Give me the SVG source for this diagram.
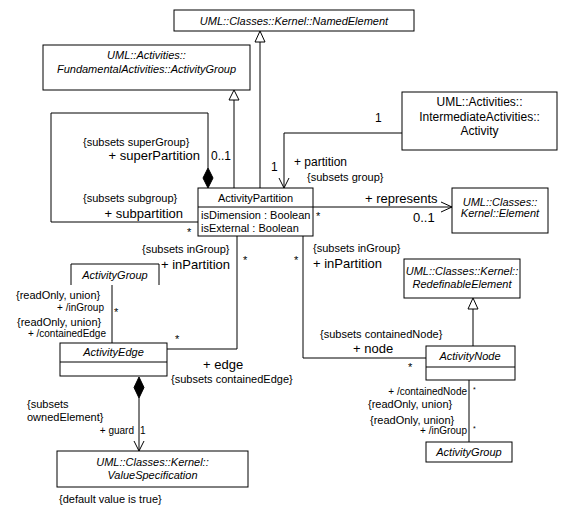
<svg xmlns="http://www.w3.org/2000/svg" width="568" height="518" viewBox="0 0 568 518">
<style>
text{font-family:"Liberation Sans",Arial,sans-serif;font-size:11px;fill:#000}
.i{font-style:italic}
.c{text-anchor:middle}
.e{text-anchor:end}
.l{font-size:13px}
.m{font-size:12px}
.s{font-size:10px}
.t{font-size:7px}
.box{fill:#fff;stroke:#000;stroke-width:1}
.ln{fill:none;stroke:#000;stroke-width:1}
.tri{fill:#fff;stroke:#000;stroke-width:1}
.dia{fill:#000;stroke:#000}
</style>
<rect width="568" height="518" fill="#fff"/>
<g id="connectors">
  <!-- generalizations -->
  <path class="ln" d="M234,188 V100"/>
  <path class="tri" d="M234,90 L239,100 L229,100 Z"/>
  <path class="ln" d="M260,188 V42"/>
  <path class="tri" d="M260,31 L265,42 L255,42 Z"/>
  <path class="ln" d="M473,346 V309"/>
  <path class="tri" d="M473,298 L478,309 L468,309 Z"/>
  <!-- self loop -->
  <path class="ln" d="M208,168 V113 H51 V222 H198"/>
  <path class="dia" d="M208,168 L213,178 L208,188 L203,178 Z"/>
  <!-- activity to partition -->
  <path class="ln" d="M402,133 H284 V188"/>
  <path class="ln" d="M279,178 L284,188 L289,178"/>
  <!-- represents -->
  <path class="ln" d="M313,207 H452"/>
  <path class="ln" d="M441,202 L452,207 L441,212"/>
  <!-- partition to node -->
  <path class="ln" d="M303,236 V358 H426"/>
  <!-- partition to edge -->
  <path class="ln" d="M237,236 V349 H167"/>
  <!-- group to edge -->
  <path class="ln" d="M112,285 V343"/>
  <!-- edge guard -->
  <path class="dia" d="M139,377 L144,387.5 L139,398 L134,387.5 Z"/>
  <path class="ln" d="M139,398 V451"/>
  <path class="ln" d="M134,441 L139,451 L144,441"/>
  <!-- node to group -->
  <path class="ln" d="M469,380 V442"/>
</g>
<g id="labels">
  <text x="83" y="146">{subsets superGroup}</text>
  <text class="l e" x="200" y="159.5">+ superPartition</text>
  <text class="m" x="211" y="159.5">0..1</text>
  <text x="83" y="202">{subsets subgroup}</text>
  <text class="l e" x="183" y="217.5">+ subpartition</text>
  <text x="187" y="236">*</text>
  <text class="m" x="375" y="122">1</text>
  <text class="m" x="271" y="171">1</text>
  <text class="m" x="294" y="166">+ partition</text>
  <text x="307" y="181">{subsets group}</text>
  <text class="l" x="365" y="202.5">+ represents</text>
  <text class="l" x="413" y="221.5">0..1</text>
  <text x="316" y="220">*</text>
  <text x="294" y="264">*</text>
  <text x="313" y="252">{subsets inGroup}</text>
  <text class="l" x="313" y="267.5">+ inPartition</text>
  <text x="243" y="264">*</text>
  <text x="142" y="253">{subsets inGroup}</text>
  <text class="l e" x="230" y="268.5">+ inPartition</text>
  <text x="175" y="343">*</text>
  <text class="l" x="203" y="368.5">+ edge</text>
  <text x="171" y="383">{subsets containedEdge}</text>
  <text x="16" y="299">{readOnly, union}</text>
  <text class="s e" x="104" y="311">+ /inGroup</text>
  <text x="114" y="316">*</text>
  <text x="17" y="326">{readOnly, union}</text>
  <text class="s e" x="106" y="337">+ /containedEdge</text>
  <text x="27" y="408">{subsets</text>
  <text x="27" y="421">ownedElement}</text>
  <text class="s e" x="134" y="434">+ guard</text>
  <text class="s" x="140" y="434">1</text>
  <text x="59" y="503">{default value is true}</text>
  <text x="320" y="338">{subsets containedNode}</text>
  <text class="l" x="353" y="352.5">+ node</text>
  <text x="408" y="371">*</text>
  <text class="s e" x="467" y="394.5">+ /containedNode</text>
  <text class="t" x="473" y="392">*</text>
  <text x="368" y="407.5">{readOnly, union}</text>
  <text x="370" y="424">{readOnly, union}</text>
  <text class="s e" x="467" y="434">+ /inGroup</text>
  <text class="t" x="473" y="431">*</text>
</g>
<g id="NamedElement">
  <rect class="box" x="174" y="10" width="240" height="21"/>
  <text class="i c" x="294" y="24.5">UML::Classes::Kernel::NamedElement</text>
</g>
<g id="FundamentalActivityGroup">
  <rect class="box" x="43" y="45" width="207" height="45"/>
  <text class="i c" x="146.5" y="59">UML::Activities::</text>
  <text class="i c" x="146.5" y="73">FundamentalActivities::ActivityGroup</text>
</g>
<g id="Activity">
  <rect class="box" x="402" y="92" width="155" height="58"/>
  <text class="c m" x="479.5" y="106">UML::Activities::</text>
  <text class="c m" x="479.5" y="121">IntermediateActivities::</text>
  <text class="c m" x="479.5" y="135">Activity</text>
</g>
<g id="ActivityPartition">
  <rect class="box" x="198" y="188" width="115" height="48"/>
  <path class="ln" d="M198,207 H313"/>
  <text class="c" x="255.5" y="202">ActivityPartition</text>
  <text x="201" y="219">isDimension : Boolean</text>
  <text x="201" y="232">isExternal : Boolean</text>
</g>
<g id="Element">
  <rect class="box" x="452" y="188" width="96" height="45"/>
  <text class="i c" x="500" y="206">UML::Classes::</text>
  <text class="i c" x="500" y="217">Kernel::Element</text>
</g>
<g id="ActivityGroupLeft">
  <path class="ln" d="M71,285 V264 H159 V285"/>
  <text class="i c" x="115" y="279">ActivityGroup</text>
</g>
<g id="ActivityEdge">
  <rect class="box" x="60" y="343" width="107" height="33"/>
  <path class="ln" d="M60,362 H167"/>
  <text class="i c" x="113.5" y="356">ActivityEdge</text>
</g>
<g id="ValueSpecification">
  <rect class="box" x="57" y="451" width="191" height="36"/>
  <text class="i c" x="152.5" y="466">UML::Classes::Kernel::</text>
  <text class="i c" x="152.5" y="479">ValueSpecification</text>
</g>
<g id="RedefinableElement">
  <rect class="box" x="404" y="259" width="116" height="39"/>
  <text class="i c" x="462" y="275">UML::Classes::Kernel::</text>
  <text class="i c" x="462" y="288">RedefinableElement</text>
</g>
<g id="ActivityNode">
  <rect class="box" x="426" y="346" width="89" height="34"/>
  <path class="ln" d="M426,367 H515"/>
  <text class="i c" x="470" y="360">ActivityNode</text>
</g>
<g id="ActivityGroupRight">
  <rect class="box" x="426" y="442" width="86" height="20"/>
  <text class="i c" x="469" y="456">ActivityGroup</text>
</g>
</svg>
